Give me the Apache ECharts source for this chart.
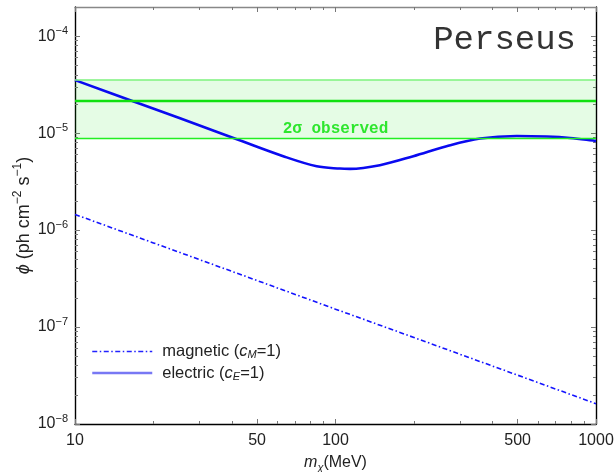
<!DOCTYPE html>
<html>
<head>
<meta charset="utf-8">
<script src="https://cdn.jsdelivr.net/npm/echarts@6/dist/echarts.min.js"></script>
<style>
  html, body { margin: 0; padding: 0; background: #fff; }
  #chart { width: 616px; height: 472px; }
</style>
</head>
<body>
<div id="chart"></div>
<script>
// Dark-matter mass (MeV) and predicted line flux (ph cm^-2 s^-1)
const electricMass = [10, 16.7, 25, 41.8, 63, 84.7, 104, 113.7, 148, 199, 267, 359, 496, 647, 795, 1000];
const electricFlux = [3.52e-5, 2.13e-5, 1.44e-5, 8.65e-6, 5.78e-6, 4.55e-6, 4.31e-6, 4.28e-6, 4.67e-6, 5.78e-6, 7.33e-6, 8.79e-6, 9.35e-6, 9.22e-6, 8.92e-6, 8.31e-6];
const magneticMass = [10, 20, 50, 100, 200, 500, 1000];
const magneticFlux = [1.45e-6, 7.38e-7, 3.02e-7, 1.53e-7, 7.8e-8, 3.19e-8, 1.62e-8];

// Observed 2-sigma band: lower edge, central value, upper edge
const observedBand = [8.8e-6, 2.15e-5, 3.52e-5];

// Axis ranges and tick values
const xRange = [10, 1000];
const yRange = [1e-8, 2e-4];
const xMajorTicks = [10, 50, 100, 500, 1000];
const xMinorTicks = [20, 30, 40, 60, 70, 80, 90, 200, 300, 400, 600, 700, 800, 900];
const yMajorTicks = [1e-8, 1e-7, 1e-6, 1e-5, 1e-4];
const yMinorTicks = [];
[-8, -7, -6, -5].forEach(function (e) {
  for (let k = 2; k <= 9; k++) yMinorTicks.push(+(k * Math.pow(10, e)).toPrecision(3));
});

const SANS = '"Liberation Sans", Arial, sans-serif';
const MONO = '"Liberation Mono", "DejaVu Sans Mono", monospace';
const supMinus = function (n) { return '\u2212' + n; };

function pairs(xs, ys) { return xs.map(function (x, i) { return [x, ys[i]]; }); }

function xAxisDef(position, ticks, len, withLabels, lineColor) {
  return {
    type: 'log', logBase: 10, position: position,
    min: xRange[0], max: xRange[1],
    axisLine: { show: lineColor !== null, onZero: false, lineStyle: { color: lineColor || '#000', width: 1.4 } },
    axisTick: { show: true, inside: true, length: len, customValues: ticks, lineStyle: { color: '#777', width: 1 } },
    axisLabel: withLabels ? {
      show: true, customValues: ticks, margin: 9, fontSize: 16, color: '#222', fontFamily: SANS,
      formatter: function (v) { return String(Math.round(v)); }
    } : { show: false },
    splitLine: { show: false }, minorTick: { show: false }
  };
}

function yAxisDef(position, ticks, len, withLabels, lineColor) {
  return {
    type: 'log', logBase: 10, position: position,
    min: yRange[0], max: yRange[1],
    axisLine: { show: lineColor !== null, onZero: false, lineStyle: { color: lineColor || '#000', width: 1.4 } },
    axisTick: { show: true, inside: true, length: len, customValues: ticks, lineStyle: { color: '#777', width: 1 } },
    axisLabel: withLabels ? {
      show: true, customValues: ticks, margin: 7, color: '#222',
      formatter: function (v) { return '{b|10}{s|' + supMinus(-Math.round(Math.log10(v))) + '}'; },
      rich: {
        b: { fontSize: 16, fontFamily: SANS, color: '#222', lineHeight: 22 },
        s: { fontSize: 11, fontFamily: SANS, color: '#222', verticalAlign: 'top', lineHeight: 11 }
      }
    } : { show: false },
    splitLine: { show: false }, minorTick: { show: false }
  };
}

const xAxes = [
  xAxisDef('bottom', xMajorTicks, 5, true, '#000'),
  xAxisDef('bottom', xMinorTicks, 3, false, null),
  xAxisDef('top', xMajorTicks, 5, false, '#888'),
  xAxisDef('top', xMinorTicks, 3, false, null)
];
xAxes[0].name = '{i|m}{sub|\u03c7}{n|(MeV)}';
xAxes[0].nameLocation = 'middle';
xAxes[0].nameGap = 29;
xAxes[0].nameTextStyle = {
  rich: {
    i: { fontSize: 16, fontFamily: SANS, fontStyle: 'italic', color: '#222', lineHeight: 20 },
    sub: { fontSize: 11, fontFamily: SANS, fontStyle: 'italic', color: '#222', verticalAlign: 'bottom', lineHeight: 11 },
    n: { fontSize: 16, fontFamily: SANS, color: '#222', lineHeight: 20 }
  }
};

const yAxes = [
  yAxisDef('left', yMajorTicks, 5, true, '#000'),
  yAxisDef('left', yMinorTicks, 3, false, null),
  yAxisDef('right', yMajorTicks, 5, false, '#000'),
  yAxisDef('right', yMinorTicks, 3, false, null)
];
yAxes[0].name = '{i|\u03d5}{n| (ph cm}{s|\u22122}{n| s}{s|\u22121}{n|)}';
yAxes[0].nameLocation = 'middle';
yAxes[0].nameGap = 39;
yAxes[0].nameMoveOverlap = false;
yAxes[0].nameRotate = 90;
yAxes[0].nameTextStyle = {
  rich: {
    i: { fontSize: 18, fontFamily: SANS, fontStyle: 'italic', color: '#222', lineHeight: 24 },
    n: { fontSize: 18, fontFamily: SANS, color: '#222', lineHeight: 24 },
    s: { fontSize: 12, fontFamily: SANS, color: '#222', verticalAlign: 'top', lineHeight: 12 }
  }
};

const legendRich = {
  f: { fontSize: 16.5, fontFamily: SANS, color: '#222', lineHeight: 18, padding: [0, 0, 0, 5] },
  n: { fontSize: 16.5, fontFamily: SANS, color: '#222', lineHeight: 18 },
  i: { fontSize: 16.5, fontFamily: SANS, fontStyle: 'italic', color: '#222', lineHeight: 18 },
  sub: { fontSize: 11, fontFamily: SANS, fontStyle: 'italic', color: '#222', verticalAlign: 'bottom', lineHeight: 11 }
};

const option = {
  animation: false,
  backgroundColor: '#fff',
  grid: { left: 75, right: 20, top: 7, bottom: 48, containLabel: false, outerBoundsMode: 'none' },
  xAxis: xAxes,
  yAxis: yAxes,
  legend: {
    orient: 'vertical', left: 91, top: 343, padding: 0,
    itemWidth: 60, itemHeight: 12, itemGap: 4,
    data: [
      { name: 'magnetic', itemStyle: { opacity: 0 }, lineStyle: { color: '#2222ff', width: 1.5, type: [5, 2.5, 1.5, 2.5] } },
      { name: 'electric', itemStyle: { opacity: 0 }, lineStyle: { color: '#7878f4', width: 2.5 } }
    ],
    formatter: function (name) {
      return name === 'magnetic'
        ? '{f|magnetic (}{i|c}{sub|M}{n|=1)}'
        : '{f|electric (}{i|c}{sub|E}{n|=1)}';
    },
    textStyle: { rich: legendRich }
  },
  graphic: [{
    type: 'text', right: 40, top: 23,
    style: { text: 'Perseus', font: 'normal 34px ' + MONO, fill: '#333' }
  }],
  series: [
    {
      name: 'band', type: 'line', data: [], silent: true,
      xAxisIndex: 0, yAxisIndex: 0,
      markArea: {
        silent: true,
        itemStyle: { color: 'rgba(0, 230, 0, 0.1)' },
        data: [[{ coord: [xRange[0], observedBand[0]] }, { coord: [xRange[1], observedBand[2]] }]]
      },
      markLine: {
        silent: true, symbol: 'none', animation: false,
        label: { show: false },
        data: [
          [{ coord: [xRange[0], observedBand[2]], lineStyle: { color: '#7cf27c', width: 1.6, type: 'solid' } }, { coord: [xRange[1], observedBand[2]] }],
          [{ coord: [xRange[0], observedBand[1]], lineStyle: { color: '#10e010', width: 2.4, type: 'solid' } }, { coord: [xRange[1], observedBand[1]] }],
          [{
            coord: [xRange[0], observedBand[0]], lineStyle: { color: '#22ee22', width: 1.3, type: 'solid' },
            label: {
              show: true, position: 'insideMiddleTop', distance: 2,
              formatter: '2\u03c3 observed',
              fontFamily: MONO, fontWeight: 'bold', fontSize: 16, color: '#2ee62e'
            }
          }, { coord: [xRange[1], observedBand[0]] }]
        ]
      }
    },
    {
      name: 'magnetic', type: 'line', data: pairs(magneticMass, magneticFlux),
      xAxisIndex: 0, yAxisIndex: 0,
      symbol: 'none', color: '#1414ff',
      lineStyle: { color: '#1414ff', width: 1.6, type: [5, 2.5, 1.5, 2.5] }
    },
    {
      name: 'electric', type: 'line', data: pairs(electricMass, electricFlux),
      xAxisIndex: 0, yAxisIndex: 0,
      symbol: 'none', smooth: 0.35, color: '#0a0af0',
      lineStyle: { color: '#0a0af0', width: 2.6 }
    }
  ]
};

const chart = echarts.init(document.getElementById('chart'), null, { renderer: 'canvas' });
chart.setOption(option);
</script>
</body>
</html>
